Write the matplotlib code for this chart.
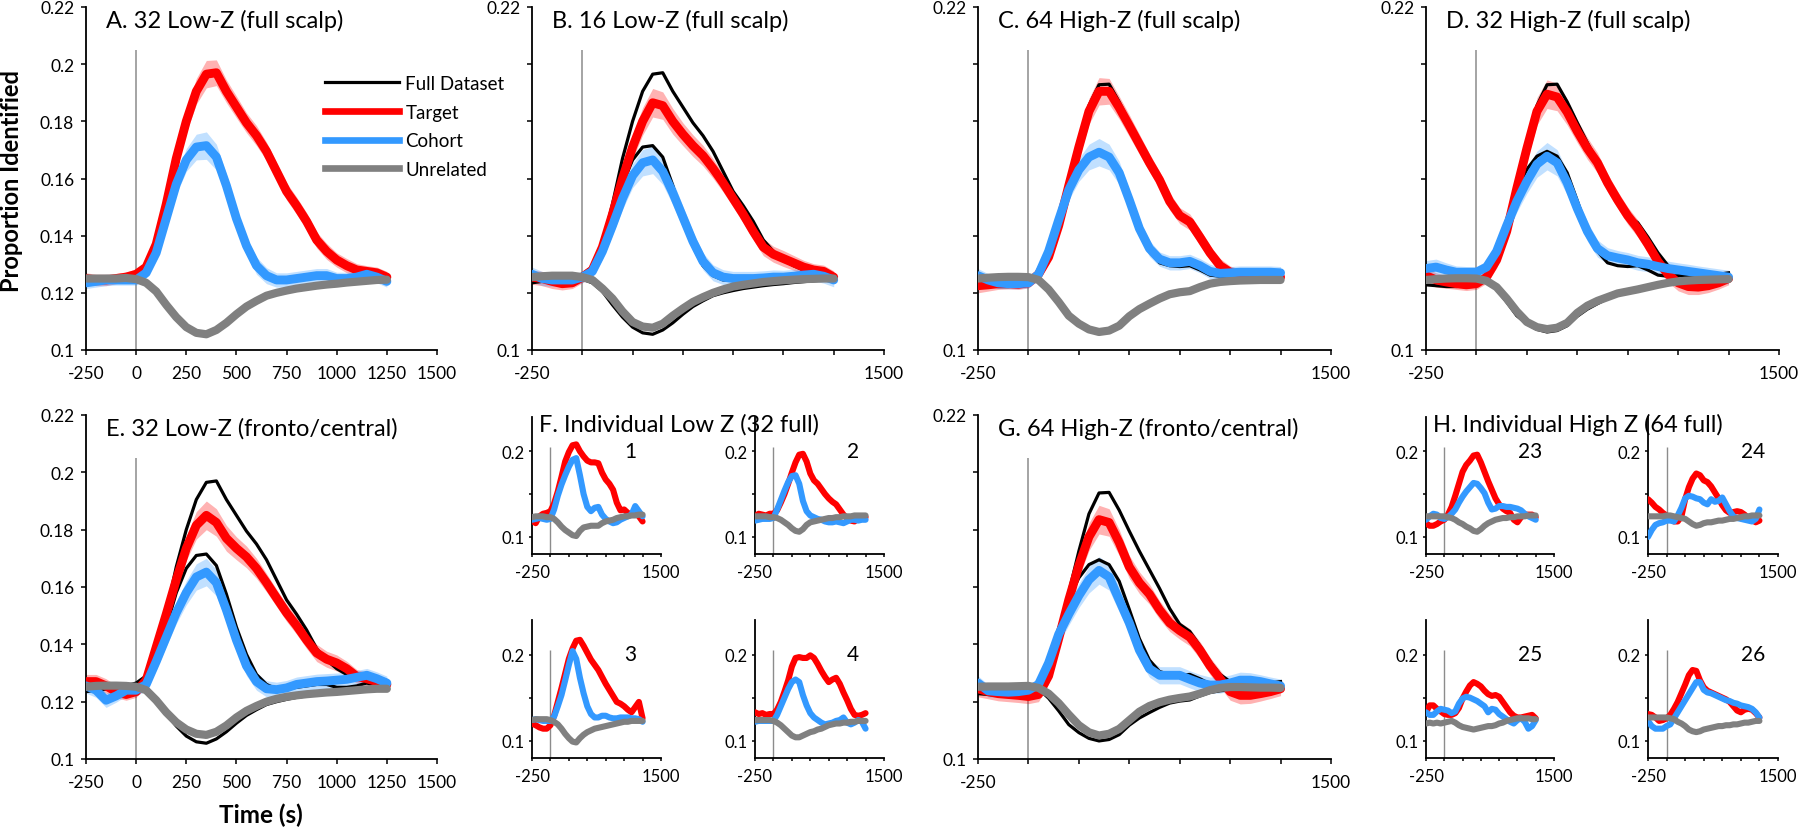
import matplotlib
matplotlib.use("Agg")
import matplotlib.pyplot as plt
from matplotlib.lines import Line2D

plt.rcParams['font.family'] = ['Lato', 'DejaVu Sans']

# ---------------- data ----------------
TIME = [-250, -200, -150, -100, -50, 0, 50, 100, 150, 200, 250, 300, 350, 400, 450, 500,
        550, 600, 650, 700, 750, 800, 850, 900, 950, 1000, 1050, 1100, 1150, 1200, 1250]
STIMULUS_ONSET = 0
ONSET_LINE_TOP = 0.205

BIG_XTICKS = [-250, 0, 250, 500, 750, 1000, 1250, 1500]
BIG_XLABELS_FULL = ['-250', '0', '250', '500', '750', '1000', '1250', '1500']
BIG_XLABELS_SPARSE = ['-250', '', '', '', '', '', '', '1500']
BIG_YTICKS = [0.1, 0.12, 0.14, 0.16, 0.18, 0.2, 0.22]
BIG_YLABELS_FULL = ['0.1', '0.12', '0.14', '0.16', '0.18', '0.2', '0.22']
BIG_YLABELS_SPARSE = ['0.1', '', '', '', '', '', '0.22']
SMALL_YTICKS = [0.1, 0.15, 0.2]
SMALL_YLABELS = ['0.1', '', '0.2']

LEGEND_LABELS = ['Full Dataset', 'Target', 'Cohort', 'Unrelated']

# Full dataset (black) curves: Low-Z (32, full scalp) and High-Z (64, full scalp)
FULL_LOW_TARGET = [0.125, 0.1245, 0.1245, 0.125, 0.1255, 0.1265, 0.129, 0.137, 0.151, 0.167, 0.180,
                   0.1905, 0.1965, 0.197, 0.1905, 0.185, 0.1795, 0.175, 0.1695, 0.1625, 0.1555,
                   0.1505, 0.145, 0.1385, 0.1345, 0.1315, 0.1295, 0.128, 0.1275, 0.127, 0.1255]
FULL_LOW_COHORT = [0.1235, 0.124, 0.1245, 0.1245, 0.1245, 0.1245, 0.127, 0.134, 0.146, 0.158, 0.1665,
                   0.171, 0.1715, 0.1675, 0.1575, 0.146, 0.1365, 0.1295, 0.126, 0.1245, 0.1245,
                   0.125, 0.1255, 0.126, 0.126, 0.125, 0.125, 0.1255, 0.1265, 0.1255, 0.124]
FULL_LOW_UNRELATED = [0.125, 0.125, 0.125, 0.125, 0.1252, 0.1248, 0.1235, 0.1205, 0.1158, 0.1115, 0.108,
                      0.106, 0.1055, 0.107, 0.1095, 0.1125, 0.1152, 0.1172, 0.119, 0.120, 0.1208,
                      0.1215, 0.122, 0.1225, 0.1229, 0.1232, 0.1236, 0.1239, 0.1242, 0.1245, 0.1246]

FULL_HIGH_TARGET = [0.1228, 0.1225, 0.1222, 0.1222, 0.1225, 0.1232, 0.1262, 0.1325, 0.1435, 0.158, 0.1725,
                    0.1855, 0.1928, 0.193, 0.1868, 0.1795, 0.1725, 0.166, 0.1595, 0.1525, 0.147,
                    0.1445, 0.1395, 0.134, 0.1295, 0.127, 0.126, 0.126, 0.126, 0.1262, 0.1262]
FULL_HIGH_COHORT = [0.1255, 0.1245, 0.1235, 0.1232, 0.1232, 0.1235, 0.1265, 0.1345, 0.1455, 0.156, 0.1632,
                    0.1678, 0.1695, 0.1678, 0.162, 0.1522, 0.142, 0.1345, 0.1305, 0.1295, 0.1292,
                    0.1295, 0.128, 0.1262, 0.1258, 0.126, 0.1262, 0.1262, 0.1262, 0.1265, 0.127]
FULL_HIGH_UNRELATED = [0.125, 0.1253, 0.1255, 0.1256, 0.1256, 0.1255, 0.1245, 0.1212, 0.1168, 0.112, 0.1092,
                       0.1072, 0.1063, 0.1068, 0.1085, 0.1118, 0.1143, 0.1162, 0.118, 0.1195, 0.1202,
                       0.1206, 0.122, 0.1232, 0.1238, 0.1241, 0.1243, 0.1244, 0.1245, 0.1245, 0.1245]

# A. 32 Low-Z (full scalp)
A_TARGET = FULL_LOW_TARGET
A_COHORT = FULL_LOW_COHORT
A_UNRELATED = FULL_LOW_UNRELATED
A_TARGET_CI = [0.002, 0.002, 0.002, 0.0018, 0.0018, 0.0018, 0.002, 0.0025, 0.003, 0.0035, 0.004,
               0.0045, 0.0048, 0.0045, 0.004, 0.0038, 0.0035, 0.0035, 0.0032, 0.003, 0.003,
               0.003, 0.003, 0.0028, 0.0028, 0.0025, 0.0025, 0.0022, 0.002, 0.002, 0.002]
A_COHORT_CI = [0.002, 0.002, 0.002, 0.0018, 0.0018, 0.0018, 0.002, 0.0025, 0.003, 0.0035, 0.004,
               0.0045, 0.0048, 0.0045, 0.004, 0.0035, 0.003, 0.003, 0.0028, 0.0025, 0.0025,
               0.0025, 0.0025, 0.0025, 0.0025, 0.0022, 0.0022, 0.002, 0.002, 0.002, 0.002]

# B. 16 Low-Z (full scalp)
B_TARGET = [0.1255, 0.125, 0.124, 0.1232, 0.1235, 0.1255, 0.128, 0.136, 0.1475, 0.160, 0.171,
            0.180, 0.1865, 0.1855, 0.180, 0.1755, 0.1715, 0.168, 0.1635, 0.1585, 0.153,
            0.1475, 0.1415, 0.136, 0.1335, 0.132, 0.1305, 0.129, 0.128, 0.1275, 0.1255]
B_COHORT = [0.1265, 0.125, 0.1245, 0.1245, 0.1245, 0.1255, 0.1275, 0.1345, 0.1435, 0.153, 0.161,
            0.1655, 0.1665, 0.1625, 0.155, 0.1465, 0.138, 0.131, 0.127, 0.1255, 0.125,
            0.125, 0.125, 0.1252, 0.1255, 0.1255, 0.1258, 0.1262, 0.1265, 0.1258, 0.1245]
B_UNRELATED = [0.1255, 0.1258, 0.126, 0.126, 0.126, 0.1255, 0.1245, 0.1215, 0.118, 0.1135, 0.1098,
               0.1082, 0.1078, 0.1092, 0.112, 0.1145, 0.1168, 0.1185, 0.120, 0.1212, 0.1222,
               0.1228, 0.1233, 0.1238, 0.1241, 0.1244, 0.1246, 0.1248, 0.1249, 0.125, 0.125]
B_TARGET_CI = [0.0025, 0.0025, 0.0025, 0.0022, 0.002, 0.002, 0.0022, 0.0028, 0.0032, 0.0038, 0.0042,
               0.0048, 0.005, 0.0048, 0.0045, 0.004, 0.0038, 0.0036, 0.0034, 0.0032, 0.003,
               0.003, 0.003, 0.003, 0.0028, 0.0028, 0.0026, 0.0024, 0.0022, 0.0022, 0.0022]
B_COHORT_CI = [0.0025, 0.0025, 0.0022, 0.002, 0.002, 0.002, 0.0022, 0.0028, 0.0032, 0.0038, 0.0042,
               0.0046, 0.0048, 0.0046, 0.0042, 0.0038, 0.0034, 0.003, 0.0028, 0.0026, 0.0025,
               0.0025, 0.0025, 0.0025, 0.0025, 0.0024, 0.0024, 0.0024, 0.0024, 0.0024, 0.0024]

# C. 64 High-Z (full scalp)
C_TARGET = [0.1225, 0.1228, 0.1232, 0.1232, 0.123, 0.1235, 0.1265, 0.1325, 0.1435, 0.1575, 0.171,
            0.1835, 0.1905, 0.1905, 0.1848, 0.1785, 0.172, 0.1655, 0.1595, 0.152, 0.147,
            0.1448, 0.1395, 0.134, 0.1295, 0.1272, 0.1262, 0.126, 0.1258, 0.1255, 0.1255]
C_COHORT = [0.126, 0.1245, 0.1235, 0.1232, 0.1232, 0.1235, 0.1265, 0.1345, 0.1455, 0.156, 0.163,
            0.1675, 0.1692, 0.1675, 0.162, 0.1525, 0.1425, 0.1355, 0.1318, 0.1305, 0.1305,
            0.131, 0.1295, 0.1275, 0.1268, 0.127, 0.1272, 0.1272, 0.1272, 0.1272, 0.127]
C_UNRELATED = FULL_HIGH_UNRELATED
C_TARGET_CI = [0.0025, 0.0022, 0.002, 0.0018, 0.0018, 0.0018, 0.002, 0.0025, 0.003, 0.0035, 0.004,
               0.0045, 0.0048, 0.0045, 0.004, 0.0038, 0.0035, 0.0032, 0.003, 0.003, 0.0028,
               0.0028, 0.0028, 0.0025, 0.0025, 0.0022, 0.002, 0.002, 0.002, 0.002, 0.002]
C_COHORT_CI = [0.0025, 0.0022, 0.002, 0.0018, 0.0018, 0.0018, 0.002, 0.0025, 0.003, 0.0035, 0.004,
               0.0045, 0.0048, 0.0045, 0.004, 0.0035, 0.003, 0.0028, 0.0025, 0.0025, 0.0025,
               0.0025, 0.0025, 0.0025, 0.0022, 0.0022, 0.0022, 0.0022, 0.0022, 0.0022, 0.0022]

# D. 32 High-Z (full scalp)
D_TARGET = [0.126, 0.1245, 0.1238, 0.1232, 0.1228, 0.1232, 0.1255, 0.1315, 0.1415, 0.1565, 0.1705,
            0.1835, 0.1895, 0.1885, 0.1832, 0.1765, 0.1705, 0.1655, 0.1585, 0.1525, 0.147,
            0.1425, 0.137, 0.131, 0.1265, 0.1235, 0.1222, 0.122, 0.1225, 0.1235, 0.125]
D_COHORT = [0.1285, 0.129, 0.128, 0.1272, 0.1272, 0.1272, 0.129, 0.1345, 0.1435, 0.152, 0.159,
            0.165, 0.1678, 0.1655, 0.1585, 0.1495, 0.1415, 0.1355, 0.133, 0.1322, 0.1315,
            0.1305, 0.130, 0.1292, 0.1285, 0.128, 0.1275, 0.127, 0.1265, 0.126, 0.1255]
D_UNRELATED = [0.1245, 0.1248, 0.125, 0.1251, 0.1251, 0.125, 0.1242, 0.122, 0.118, 0.1135, 0.1098,
               0.108, 0.1073, 0.1078, 0.1095, 0.113, 0.1155, 0.1172, 0.1185, 0.1198, 0.1205,
               0.1212, 0.122, 0.1228, 0.1235, 0.124, 0.1243, 0.1245, 0.1246, 0.1247, 0.1248]
D_TARGET_CI = [0.0028, 0.0025, 0.0022, 0.002, 0.002, 0.002, 0.0022, 0.0028, 0.0032, 0.0038, 0.0042,
               0.0048, 0.005, 0.0048, 0.0045, 0.004, 0.0038, 0.0035, 0.0032, 0.003, 0.003,
               0.003, 0.003, 0.0028, 0.0028, 0.0028, 0.0028, 0.0026, 0.0024, 0.0022, 0.0022]
D_COHORT_CI = [0.0028, 0.0028, 0.0025, 0.0022, 0.002, 0.002, 0.0022, 0.0028, 0.0032, 0.0038, 0.0042,
               0.0046, 0.0048, 0.0046, 0.0042, 0.0038, 0.0034, 0.003, 0.0028, 0.0026, 0.0026,
               0.0026, 0.0026, 0.0026, 0.0026, 0.0025, 0.0025, 0.0024, 0.0024, 0.0024, 0.0024]

# E. 32 Low-Z (fronto/central)
E_TARGET = [0.127, 0.127, 0.1255, 0.1235, 0.1225, 0.1235, 0.1275, 0.139, 0.1505, 0.1625, 0.1735,
            0.1815, 0.185, 0.1825, 0.177, 0.1735, 0.1705, 0.1665, 0.1615, 0.1562, 0.151,
            0.1465, 0.1415, 0.137, 0.1348, 0.1335, 0.1315, 0.1288, 0.128, 0.127, 0.126]
E_COHORT = [0.1255, 0.124, 0.1205, 0.122, 0.124, 0.124, 0.126, 0.134, 0.1425, 0.151, 0.158,
            0.1635, 0.1652, 0.1615, 0.152, 0.1415, 0.1325, 0.127, 0.1245, 0.1242, 0.1248,
            0.126, 0.1265, 0.127, 0.1272, 0.1275, 0.1278, 0.1285, 0.1292, 0.128, 0.1265]
E_UNRELATED = [0.1252, 0.1255, 0.1256, 0.1256, 0.1255, 0.1252, 0.124, 0.1205, 0.1163, 0.1128, 0.1103,
               0.1088, 0.1084, 0.1095, 0.1117, 0.1145, 0.1168, 0.1185, 0.120, 0.121, 0.1217,
               0.1222, 0.1226, 0.1229, 0.1232, 0.1234, 0.1237, 0.124, 0.1243, 0.1245, 0.1245]
E_TARGET_CI = [0.0025, 0.0025, 0.0025, 0.0022, 0.002, 0.002, 0.0022, 0.0028, 0.0032, 0.0038, 0.0042,
               0.0048, 0.005, 0.0048, 0.0045, 0.004, 0.0038, 0.0035, 0.0032, 0.003, 0.003,
               0.003, 0.003, 0.003, 0.0028, 0.0028, 0.0026, 0.0024, 0.0022, 0.0022, 0.0022]
E_COHORT_CI = [0.0025, 0.0025, 0.0025, 0.0022, 0.002, 0.002, 0.0022, 0.0028, 0.0032, 0.0038, 0.0042,
               0.0046, 0.0048, 0.0046, 0.0042, 0.0038, 0.0034, 0.003, 0.0028, 0.0026, 0.0026,
               0.0026, 0.0026, 0.0026, 0.0026, 0.0025, 0.0025, 0.0024, 0.0024, 0.0024, 0.0024]

# G. 64 High-Z (fronto/central)
G_TARGET = [0.1245, 0.1235, 0.1228, 0.1225, 0.1222, 0.1218, 0.1225, 0.129, 0.142, 0.1555, 0.1675,
            0.1775, 0.1835, 0.1825, 0.1755, 0.167, 0.1615, 0.1575, 0.152, 0.1475, 0.1448,
            0.1425, 0.138, 0.1325, 0.128, 0.1235, 0.1222, 0.1222, 0.1228, 0.1235, 0.1245]
G_COHORT = [0.1265, 0.1238, 0.1235, 0.1233, 0.1235, 0.124, 0.126, 0.1335, 0.1435, 0.1505, 0.157,
            0.1625, 0.1658, 0.1635, 0.1555, 0.1475, 0.138, 0.1315, 0.1292, 0.1292, 0.1292,
            0.1278, 0.1265, 0.1258, 0.1258, 0.1265, 0.1275, 0.1275, 0.127, 0.1262, 0.1255]
G_UNRELATED = [0.1252, 0.1253, 0.1253, 0.1253, 0.1254, 0.1255, 0.1248, 0.1228, 0.1195, 0.1155, 0.1118,
               0.1093, 0.1082, 0.1088, 0.1105, 0.1135, 0.1165, 0.1185, 0.1198, 0.1207, 0.1213,
               0.1218, 0.1228, 0.124, 0.1248, 0.1251, 0.1251, 0.125, 0.1249, 0.1249, 0.1248]
G_TARGET_CI = [0.0028, 0.0025, 0.0025, 0.0025, 0.0025, 0.0025, 0.0025, 0.0028, 0.0032, 0.0038, 0.0042,
               0.0048, 0.005, 0.0048, 0.0045, 0.004, 0.0038, 0.0035, 0.0032, 0.003, 0.003,
               0.003, 0.003, 0.003, 0.003, 0.003, 0.003, 0.0028, 0.0026, 0.0024, 0.0024]
G_COHORT_CI = [0.0025, 0.0022, 0.002, 0.002, 0.002, 0.002, 0.0022, 0.0028, 0.0032, 0.0038, 0.0042,
               0.0046, 0.0048, 0.0046, 0.0042, 0.0038, 0.0034, 0.003, 0.003, 0.003, 0.003,
               0.003, 0.003, 0.0028, 0.0028, 0.0028, 0.0028, 0.0026, 0.0024, 0.0024, 0.0024]

# F. Individual Low Z (32 full): participants 1-4
F_NAMES = ['1', '2', '3', '4']
F1_TARGET = [0.119, 0.116, 0.124, 0.127, 0.128, 0.130, 0.139, 0.153, 0.170, 0.188, 0.199, 0.207, 0.208,
             0.200, 0.194, 0.189, 0.187, 0.187, 0.186, 0.175, 0.167, 0.162, 0.155, 0.140, 0.131, 0.132,
             0.128, 0.126, 0.128, 0.124, 0.118]
F1_COHORT = [0.120, 0.121, 0.122, 0.121, 0.120, 0.121, 0.132, 0.148, 0.161, 0.172, 0.182, 0.190, 0.192,
             0.172, 0.150, 0.135, 0.130, 0.134, 0.135, 0.126, 0.121, 0.118, 0.116, 0.117, 0.120, 0.122,
             0.124, 0.126, 0.136, 0.130, 0.124]
F1_UNRELATED = [0.123, 0.124, 0.124, 0.124, 0.123, 0.123, 0.121, 0.117, 0.112, 0.108, 0.105, 0.102, 0.101,
                0.107, 0.111, 0.112, 0.113, 0.113, 0.113, 0.116, 0.118, 0.119, 0.120, 0.122, 0.123, 0.124,
                0.124, 0.125, 0.125, 0.126, 0.126]
F2_TARGET = [0.124, 0.127, 0.126, 0.125, 0.127, 0.127, 0.131, 0.140, 0.150, 0.162, 0.175, 0.187, 0.196,
             0.197, 0.188, 0.174, 0.166, 0.162, 0.156, 0.150, 0.145, 0.141, 0.138, 0.132, 0.126, 0.122,
             0.119, 0.118, 0.122, 0.124, 0.123]
F2_COHORT = [0.119, 0.120, 0.121, 0.121, 0.121, 0.122, 0.132, 0.143, 0.154, 0.164, 0.171, 0.172, 0.162,
             0.142, 0.130, 0.125, 0.123, 0.121, 0.120, 0.118, 0.117, 0.117, 0.118, 0.117, 0.116, 0.118,
             0.120, 0.120, 0.119, 0.120, 0.120]
F2_UNRELATED = [0.124, 0.124, 0.124, 0.124, 0.123, 0.123, 0.122, 0.120, 0.117, 0.114, 0.110, 0.107, 0.106,
                0.109, 0.114, 0.117, 0.118, 0.119, 0.120, 0.121, 0.122, 0.122, 0.123, 0.123, 0.124, 0.124,
                0.124, 0.125, 0.125, 0.125, 0.125]
F3_TARGET = [0.120, 0.118, 0.1155, 0.114, 0.114, 0.118, 0.129, 0.145, 0.161, 0.178, 0.195, 0.207, 0.216,
             0.217, 0.210, 0.202, 0.194, 0.188, 0.182, 0.174, 0.166, 0.159, 0.152, 0.145, 0.143, 0.140,
             0.136, 0.133, 0.139, 0.145, 0.126]
F3_COHORT = [0.124, 0.125, 0.124, 0.123, 0.123, 0.123, 0.128, 0.140, 0.153, 0.170, 0.188, 0.204, 0.195,
             0.173, 0.155, 0.140, 0.131, 0.127, 0.127, 0.129, 0.129, 0.127, 0.126, 0.126, 0.127, 0.127,
             0.127, 0.126, 0.126, 0.125, 0.122]
F3_UNRELATED = [0.124, 0.125, 0.125, 0.125, 0.125, 0.124, 0.122, 0.119, 0.114, 0.108, 0.103, 0.099, 0.098,
                0.103, 0.107, 0.110, 0.112, 0.114, 0.115, 0.116, 0.117, 0.118, 0.119, 0.120, 0.121, 0.122,
                0.122, 0.123, 0.123, 0.123, 0.123]
F4_TARGET = [0.133, 0.131, 0.132, 0.130, 0.131, 0.131, 0.136, 0.145, 0.157, 0.170, 0.186, 0.196, 0.197,
             0.196, 0.196, 0.199, 0.196, 0.189, 0.181, 0.174, 0.168, 0.171, 0.173, 0.166, 0.156, 0.147,
             0.137, 0.130, 0.129, 0.130, 0.132]
F4_COHORT = [0.122, 0.123, 0.123, 0.123, 0.123, 0.123, 0.130, 0.140, 0.150, 0.160, 0.168, 0.171, 0.168,
             0.153, 0.141, 0.132, 0.127, 0.124, 0.121, 0.119, 0.120, 0.121, 0.123, 0.124, 0.127, 0.121,
             0.119, 0.121, 0.124, 0.122, 0.114]
F4_UNRELATED = [0.124, 0.124, 0.124, 0.124, 0.124, 0.123, 0.121, 0.118, 0.114, 0.110, 0.106, 0.104, 0.104,
                0.106, 0.108, 0.110, 0.111, 0.113, 0.114, 0.116, 0.118, 0.119, 0.120, 0.120, 0.121, 0.121,
                0.122, 0.122, 0.123, 0.123, 0.123]

# H. Individual High Z (64 full): participants 23-26
H_NAMES = ['23', '24', '25', '26']
H23_TARGET = [0.116, 0.113, 0.113, 0.115, 0.118, 0.120, 0.126, 0.135, 0.148, 0.162, 0.176, 0.184, 0.189,
              0.195, 0.196, 0.187, 0.176, 0.165, 0.155, 0.145, 0.138, 0.133, 0.130, 0.128, 0.120, 0.117,
              0.123, 0.126, 0.126, 0.126, 0.123]
H23_COHORT = [0.120, 0.124, 0.127, 0.126, 0.122, 0.121, 0.123, 0.127, 0.132, 0.140, 0.147, 0.153, 0.158,
              0.163, 0.162, 0.157, 0.151, 0.140, 0.132, 0.133, 0.136, 0.136, 0.135, 0.135, 0.134, 0.133,
              0.131, 0.127, 0.124, 0.122, 0.120]
H23_UNRELATED = [0.124, 0.124, 0.124, 0.124, 0.124, 0.124, 0.123, 0.122, 0.120, 0.117, 0.115, 0.112, 0.110,
                 0.107, 0.106, 0.109, 0.113, 0.116, 0.118, 0.120, 0.121, 0.122, 0.122, 0.123, 0.123, 0.124,
                 0.124, 0.124, 0.125, 0.125, 0.125]
H24_TARGET = [0.144, 0.140, 0.135, 0.132, 0.128, 0.125, 0.121, 0.118, 0.118, 0.124, 0.144, 0.158, 0.168,
              0.174, 0.172, 0.166, 0.164, 0.159, 0.152, 0.145, 0.137, 0.131, 0.128, 0.129, 0.130, 0.129,
              0.126, 0.122, 0.120, 0.117, 0.119]
H24_COHORT = [0.100, 0.108, 0.114, 0.116, 0.117, 0.119, 0.119, 0.118, 0.125, 0.134, 0.145, 0.148, 0.147,
              0.145, 0.144, 0.140, 0.138, 0.144, 0.141, 0.142, 0.146, 0.138, 0.130, 0.124, 0.122, 0.121,
              0.120, 0.119, 0.118, 0.121, 0.132]
H24_UNRELATED = [0.124, 0.124, 0.124, 0.124, 0.124, 0.125, 0.125, 0.124, 0.123, 0.122, 0.121, 0.118, 0.115,
                 0.113, 0.114, 0.116, 0.117, 0.117, 0.118, 0.119, 0.119, 0.120, 0.121, 0.121, 0.122, 0.123,
                 0.124, 0.124, 0.125, 0.125, 0.125]
H25_TARGET = [0.133, 0.141, 0.141, 0.137, 0.134, 0.131, 0.130, 0.130, 0.132, 0.138, 0.149, 0.157, 0.164,
              0.168, 0.166, 0.163, 0.158, 0.154, 0.152, 0.153, 0.151, 0.145, 0.139, 0.133, 0.129, 0.127,
              0.127, 0.128, 0.129, 0.130, 0.126]
H25_COHORT = [0.133, 0.130, 0.130, 0.134, 0.137, 0.136, 0.135, 0.132, 0.134, 0.143, 0.149, 0.151, 0.150,
              0.148, 0.146, 0.143, 0.140, 0.133, 0.137, 0.136, 0.131, 0.128, 0.125, 0.122, 0.120, 0.124,
              0.126, 0.122, 0.114, 0.117, 0.124]
H25_UNRELATED = [0.120, 0.121, 0.120, 0.121, 0.120, 0.121, 0.122, 0.123, 0.121, 0.118, 0.116, 0.115, 0.114,
                 0.113, 0.114, 0.115, 0.116, 0.117, 0.117, 0.118, 0.120, 0.121, 0.123, 0.124, 0.125, 0.126,
                 0.126, 0.126, 0.126, 0.125, 0.125]
H26_TARGET = [0.131, 0.130, 0.127, 0.123, 0.124, 0.126, 0.130, 0.137, 0.145, 0.155, 0.165, 0.176, 0.182,
              0.181, 0.170, 0.162, 0.158, 0.156, 0.154, 0.152, 0.150, 0.148, 0.145, 0.140, 0.135, 0.133,
              0.136, 0.137, 0.136, 0.132, 0.127]
H26_COHORT = [0.123, 0.117, 0.114, 0.114, 0.114, 0.117, 0.119, 0.126, 0.133, 0.140, 0.147, 0.154, 0.161,
              0.168, 0.168, 0.159, 0.156, 0.155, 0.153, 0.151, 0.149, 0.147, 0.146, 0.144, 0.143, 0.141,
              0.140, 0.139, 0.137, 0.133, 0.127]
H26_UNRELATED = [0.127, 0.127, 0.127, 0.127, 0.127, 0.127, 0.126, 0.125, 0.122, 0.120, 0.117, 0.113, 0.111,
                 0.110, 0.111, 0.113, 0.114, 0.115, 0.116, 0.117, 0.117, 0.118, 0.118, 0.119, 0.119, 0.120,
                 0.121, 0.121, 0.122, 0.123, 0.123]

# ---------------- style ----------------
W, H = 1800, 828
DPI = 100
RED = '#FF0000'
BLUE = '#3399FF'
GRAY = '#808080'
ONSET_COLOR = '#8C8C8C'
BIG_LW = 6.4
BIG_BLACK_LW = 2.3
SMALL_LW = 4.4
SMALL_BLACK_LW = 1.6
TICK_FS = 12.5
SMALL_TICK_FS = 12
TITLE_FS = 17
NAME_FS = 15

fig = plt.figure(figsize=(W / DPI, H / DPI), dpi=DPI)


def px_axes(left, top, right, bottom):
    return fig.add_axes([left / W, 1 - bottom / H, (right - left) / W, (bottom - top) / H])


def style_axes(ax, small=False):
    for s in ('top', 'right'):
        ax.spines[s].set_visible(False)
    for s in ('left', 'bottom'):
        ax.spines[s].set_linewidth(1.3)
        ax.spines[s].set_color('black')
    ax.set_xlim(-250, 1500)
    ax.tick_params(direction='out', length=3.5 if not small else 2.5, width=1.1,
                   labelsize=SMALL_TICK_FS if small else TICK_FS, colors='black')
    ax.tick_params(axis='x', pad=7.5 if not small else 4.5)
    ax.tick_params(axis='y', pad=5 if not small else 3)
    ax.patch.set_alpha(0)


def big_panel(box, title, target, cohort, unrelated, tci, cci, ftarget, fcohort, funrel, full_labels):
    ax = px_axes(*box)
    style_axes(ax)
    ax.set_ylim(0.1, 0.22)
    ax.vlines(STIMULUS_ONSET, 0.1, ONSET_LINE_TOP, color=ONSET_COLOR, lw=1.1, zorder=1)
    ax.fill_between(TIME, [v - e for v, e in zip(target, tci)], [v + e for v, e in zip(target, tci)],
                    color=RED, alpha=0.3, lw=0, zorder=2)
    ax.fill_between(TIME, [v - e for v, e in zip(cohort, cci)], [v + e for v, e in zip(cohort, cci)],
                    color=BLUE, alpha=0.3, lw=0, zorder=2)
    for series in (ftarget, fcohort, funrel):
        ax.plot(TIME, series, color='black', lw=BIG_BLACK_LW, zorder=3, solid_joinstyle='round')
    ax.plot(TIME, target, color=RED, lw=BIG_LW, zorder=4, solid_capstyle='round', solid_joinstyle='round')
    ax.plot(TIME, cohort, color=BLUE, lw=BIG_LW, zorder=5, solid_capstyle='round', solid_joinstyle='round')
    ax.plot(TIME, unrelated, color=GRAY, lw=BIG_LW * 0.92, zorder=6, solid_capstyle='round',
            solid_joinstyle='round')
    ax.set_xticks(BIG_XTICKS)
    ax.set_xticklabels(BIG_XLABELS_FULL if full_labels else BIG_XLABELS_SPARSE)
    ax.set_yticks(BIG_YTICKS)
    ax.set_yticklabels(BIG_YLABELS_FULL if full_labels else BIG_YLABELS_SPARSE)
    ax.text(20 / (box[2] - box[0]), 1 - 13 / (box[3] - box[1]), title, transform=ax.transAxes,
            fontsize=TITLE_FS, ha='left', va='center')
    return ax


def small_panel(box, name, name_xfrac, target, cohort, unrelated):
    ax = px_axes(*box)
    style_axes(ax, small=True)
    ax.set_ylim(0.08, 0.24)
    ax.vlines(STIMULUS_ONSET, 0.08, ONSET_LINE_TOP, color=ONSET_COLOR, lw=1.0, zorder=1)
    for series in (target, cohort, unrelated):
        ax.plot(TIME, series, color='black', lw=SMALL_BLACK_LW, zorder=2)
    ax.plot(TIME, target, color=RED, lw=SMALL_LW, zorder=3, solid_capstyle='round', solid_joinstyle='round')
    ax.plot(TIME, cohort, color=BLUE, lw=SMALL_LW, zorder=4, solid_capstyle='round', solid_joinstyle='round')
    ax.plot(TIME, unrelated, color=GRAY, lw=SMALL_LW, zorder=5, solid_capstyle='round',
            solid_joinstyle='round')
    ax.set_xticks(BIG_XTICKS)
    ax.set_xticklabels(BIG_XLABELS_SPARSE)
    ax.set_yticks(SMALL_YTICKS)
    ax.set_yticklabels(SMALL_YLABELS)
    ax.text(name_xfrac, 0.2, name, transform=ax.get_yaxis_transform(), fontsize=NAME_FS,
            ha='center', va='center')
    return ax


# top row
big_panel((86, 8, 437, 351), 'A. 32 Low-Z (full scalp)', A_TARGET, A_COHORT, A_UNRELATED,
          A_TARGET_CI, A_COHORT_CI, FULL_LOW_TARGET, FULL_LOW_COHORT, FULL_LOW_UNRELATED, True)
big_panel((532, 8, 884, 351), 'B. 16 Low-Z (full scalp)', B_TARGET, B_COHORT, B_UNRELATED,
          B_TARGET_CI, B_COHORT_CI, FULL_LOW_TARGET, FULL_LOW_COHORT, FULL_LOW_UNRELATED, False)
big_panel((978, 8, 1331, 351), 'C. 64 High-Z (full scalp)', C_TARGET, C_COHORT, C_UNRELATED,
          C_TARGET_CI, C_COHORT_CI, FULL_HIGH_TARGET, FULL_HIGH_COHORT, FULL_HIGH_UNRELATED, False)
big_panel((1426, 8, 1779, 351), 'D. 32 High-Z (full scalp)', D_TARGET, D_COHORT, D_UNRELATED,
          D_TARGET_CI, D_COHORT_CI, FULL_HIGH_TARGET, FULL_HIGH_COHORT, FULL_HIGH_UNRELATED, False)

# bottom row big
big_panel((86, 416, 437, 760), 'E. 32 Low-Z (fronto/central)', E_TARGET, E_COHORT, E_UNRELATED,
          E_TARGET_CI, E_COHORT_CI, FULL_LOW_TARGET, FULL_LOW_COHORT, FULL_LOW_UNRELATED, True)
big_panel((978, 416, 1331, 760), 'G. 64 High-Z (fronto/central)', G_TARGET, G_COHORT, G_UNRELATED,
          G_TARGET_CI, G_COHORT_CI, FULL_HIGH_TARGET, FULL_HIGH_COHORT, FULL_HIGH_UNRELATED, False)

# individual panels
F_BOXES = [(532, 418, 661, 555), (755, 418, 884, 555), (532, 621, 661, 759), (755, 621, 884, 759)]
F_SERIES = [(F1_TARGET, F1_COHORT, F1_UNRELATED), (F2_TARGET, F2_COHORT, F2_UNRELATED),
            (F3_TARGET, F3_COHORT, F3_UNRELATED), (F4_TARGET, F4_COHORT, F4_UNRELATED)]
for box, nm, ser in zip(F_BOXES, F_NAMES, F_SERIES):
    small_panel(box, nm, 0.76, *ser)

H_BOXES = [(1426, 418, 1554, 555), (1648, 418, 1778, 555), (1426, 621, 1554, 759), (1648, 621, 1778, 759)]
H_SERIES = [(H23_TARGET, H23_COHORT, H23_UNRELATED), (H24_TARGET, H24_COHORT, H24_UNRELATED),
            (H25_TARGET, H25_COHORT, H25_UNRELATED), (H26_TARGET, H26_COHORT, H26_UNRELATED)]
for box, nm, ser in zip(H_BOXES, H_NAMES, H_SERIES):
    small_panel(box, nm, 0.81, *ser)

fig.text(539 / W, 1 - 425 / H, 'F. Individual Low Z (32 full)', fontsize=TITLE_FS, ha='left', va='center')
fig.text(1433 / W, 1 - 425 / H, 'H. Individual High Z (64 full)', fontsize=TITLE_FS, ha='left', va='center')

# axis labels
fig.text(12 / W, 1 - 181 / H, 'Proportion Identified', rotation=90, fontsize=17, fontweight='bold',
         ha='center', va='center')
fig.text(261 / W, 1 - 815 / H, 'Time (s)', fontsize=17.5, fontweight='bold', ha='center', va='center')

# legend
handles = [Line2D([], [], color='black', lw=2.3),
           Line2D([], [], color=RED, lw=4.8),
           Line2D([], [], color=BLUE, lw=4.8),
           Line2D([], [], color=GRAY, lw=4.8)]
fig.legend(handles, LEGEND_LABELS, loc='upper left', bbox_to_anchor=(325 / W, 1 - 76 / H),
           frameon=False, fontsize=13.5, handlelength=3.95, handletextpad=0.33, labelspacing=0.62,
           borderpad=0, borderaxespad=0)

fig.savefig('out.png', dpi=DPI)
